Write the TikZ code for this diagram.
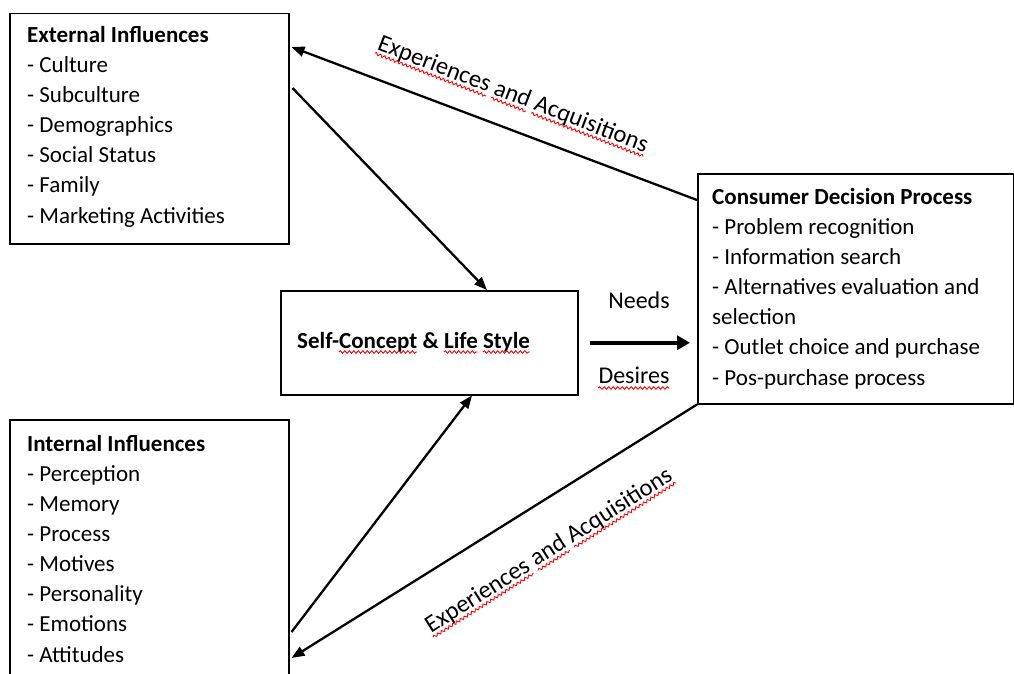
\documentclass[tikz,border=0pt]{standalone}
\usepackage{fontspec}
\setmainfont{Carlito}
\usetikzlibrary{arrows.meta,calc,decorations.pathmorphing}
\newcommand\lblfont{\fontsize{24.5}{28}\selectfont}
\newcommand\ndfont{\fontsize{24}{28}\selectfont}
\newcommand\selffont{\fontsize{23}{28}\selectfont\bfseries}
\newlength\wEa\newlength\wEb\newlength\wEc\newlength\wEd\newlength\wEe
\newlength\wSa\newlength\wSb\newlength\wSc\newlength\wSd\newlength\wSe\newlength\wSf
\settowidth{\wEa}{\lblfont Experiences}
\settowidth{\wEb}{\lblfont Experiences }
\settowidth{\wEc}{\lblfont Experiences and}
\settowidth{\wEd}{\lblfont Experiences and }
\settowidth{\wEe}{\lblfont Experiences and Acquisitions}
\settowidth{\wSa}{\selffont Self-}
\settowidth{\wSb}{\selffont Self-Concept}
\settowidth{\wSc}{\selffont Self-Concept \& }
\settowidth{\wSd}{\selffont Self-Concept \& Life}
\settowidth{\wSe}{\selffont Self-Concept \& Life }
\settowidth{\wSf}{\selffont Self-Concept \& Life Style}
\newcommand\squig[4]{\path[wave] ($(#1)!#3!(#2)$) -- ($(#1)!#4!(#2)$);}
\tikzset{
  box/.style={draw, line width=1.5pt, inner sep=0pt, rectangle, anchor=north west},
  txt/.style={font=\fontsize{23}{30.1}\selectfont, align=left, inner sep=0pt, anchor=base west},
  lbl/.style={font=\lblfont, inner sep=0pt},
  arr/.style={line width=2.3pt, -{Triangle[length=13pt,width=10pt]}},
  bigarr/.style={line width=4pt, -{Triangle[length=13pt,width=14pt]}},
  wave/.style={draw=red, line width=0.9pt, decorate, decoration={snake, amplitude=1.3pt, segment length=4.5pt}}
}
\begin{document}
\begin{tikzpicture}[x=1pt,y=-1pt]
\useasboundingbox (0,0) rectangle (1014,674);
% boxes
\node[box, minimum width=279pt, minimum height=230pt] (ext) at (9,13) {};
\node[box, minimum width=297pt, minimum height=104pt] (self) at (280,290) {};
\node[box, minimum width=316pt, minimum height=230pt] (cdp) at (697,173) {};
\node[box, minimum width=279pt, minimum height=280pt] (int) at (9,419) {};
% texts (anchored at the baseline of their last line)
\node[txt] (extT) at (27,223) {\textbf{External Influences}\\- Culture\\- Subculture\\- Demographics\\- Social Status\\- Family\\- Marketing Activities};
\node[txt] (intT) at (27,662) {\textbf{Internal Influences}\\- Perception\\- Memory\\- Process\\- Motives\\- Personality\\- Emotions\\- Attitudes};
\node[txt] (cdpT) at (712,385) {\textbf{Consumer Decision Process}\\- Problem recognition\\- Information search\\- Alternatives evaluation and\\selection\\- Outlet choice and purchase\\- Pos-purchase process};
\node[lbl, anchor=base west, font=\selffont] (selfT) at (297,348) {Self-Concept \& Life Style};
\node[lbl, anchor=base, font=\ndfont] (needs) at (639,308) {Needs};
\node[lbl, anchor=base, font=\ndfont] (desires) at (634,383) {Desires};
% connectors
\draw[arr] ([yshift=-27pt]cdp.north west) -- ([xshift=2pt,yshift=-34pt]ext.north east);
\draw[arr] ([xshift=3pt,yshift=-75pt]ext.north east) -- ([xshift=207pt]self.north west);
\draw[arr] ([xshift=2pt,yshift=-213pt]int.north east) -- ([xshift=192pt]self.south west);
\draw[arr] (cdp.south west) -- ([xshift=2pt,yshift=-239pt]int.north east);
\draw[bigarr] ([xshift=11pt]self.east) -- ([xshift=-7pt]cdp.west |- self.east);
% rotated labels
\node[lbl, rotate=-21] (lab1) at (513,95) {Experiences and Acquisitions};
\node[lbl, rotate=32.5] (lab2) at (549,551) {Experiences and Acquisitions};
% spell-check squiggles
\coordinate (lab1W) at ($(lab1.base west)!4pt!-90:(lab1.base east)$);
\coordinate (lab1E) at ($(lab1.base east)!4pt!90:(lab1.base west)$);
\coordinate (lab2W) at ($(lab2.base west)!4pt!-90:(lab2.base east)$);
\coordinate (lab2E) at ($(lab2.base east)!4pt!90:(lab2.base west)$);
\coordinate (selfW) at ([yshift=-4pt]selfT.base west);
\coordinate (selfE) at ([yshift=-4pt]selfT.base east);
\coordinate (desW) at ([yshift=-5pt]desires.base west);
\coordinate (desE) at ([yshift=-5pt]desires.base east);
\squig{lab1W}{lab1E}{0pt}{\the\wEa}
\squig{lab1W}{lab1E}{\the\wEb}{\the\wEc}
\squig{lab1W}{lab1E}{\the\wEd}{\the\wEe}
\squig{lab2W}{lab2E}{0pt}{\the\wEa}
\squig{lab2W}{lab2E}{\the\wEb}{\the\wEc}
\squig{lab2W}{lab2E}{\the\wEd}{\the\wEe}
\squig{selfW}{selfE}{\the\wSa}{\the\wSb}
\squig{selfW}{selfE}{\the\wSc}{\the\wSd}
\squig{selfW}{selfE}{\the\wSe}{\the\wSf}
\path[wave] (desW) -- (desE);
\end{tikzpicture}
\end{document}
